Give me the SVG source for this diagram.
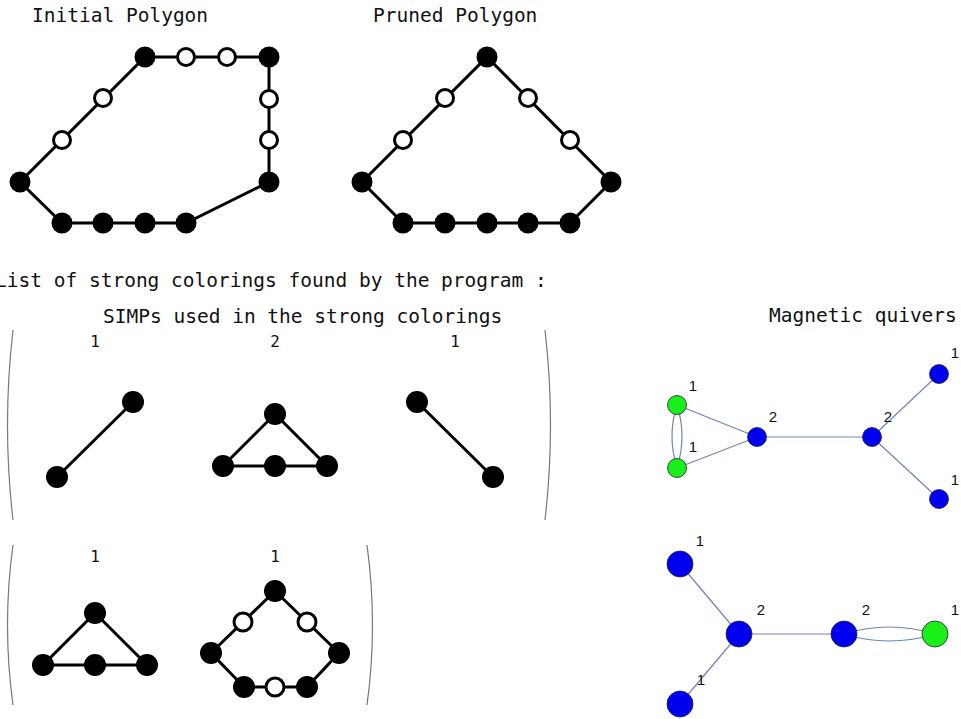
<svg xmlns="http://www.w3.org/2000/svg" width="961" height="719" viewBox="0 0 961 719">
<style>
.t{font-family:"DejaVu Sans Mono","Liberation Mono",monospace;font-size:19.5px;fill:#111}
.m{font-family:"DejaVu Sans Mono","Liberation Mono",monospace;font-size:16px;fill:#111;text-anchor:middle}
.q{font-family:"Liberation Sans",Arial,sans-serif;font-size:15px;fill:#111;text-anchor:middle}
.e{stroke:#000;stroke-width:3;fill:none}
.b{fill:#000}
.w{fill:#fff;stroke:#000;stroke-width:3}
.br{stroke:#777;stroke-width:1.2;fill:none}
.qe{stroke:#6f86b0;stroke-width:1.2;fill:none}
.qb{fill:#0000f0;stroke:#223;stroke-width:0.8}
.qg{fill:#19f019;stroke:#223;stroke-width:0.8}
</style>
<rect width="961" height="719" fill="#fff"/>
<text class="t" x="32" y="22">Initial Polygon</text>
<text class="t" x="373" y="22">Pruned Polygon</text>
<text class="t" x="-5" y="287">List of strong colorings found by the program :</text>
<text class="t" x="103" y="323">SIMPs used in the strong colorings</text>
<text class="t" x="769" y="322">Magnetic quivers</text>

<g id="initial-polygon">
<polygon class="e" points="145,57 269,57 269,182 186,223 62,223 20,182"/>
<circle class="b" cx="145" cy="57" r="10.5"/>
<circle class="w" cx="186" cy="57" r="8.5"/>
<circle class="w" cx="227" cy="57" r="8.5"/>
<circle class="b" cx="269" cy="57" r="10.5"/>
<circle class="w" cx="269" cy="99" r="8.5"/>
<circle class="w" cx="269" cy="140" r="8.5"/>
<circle class="b" cx="269" cy="182" r="10.5"/>
<circle class="b" cx="186" cy="223" r="10.5"/>
<circle class="b" cx="145" cy="223" r="10.5"/>
<circle class="b" cx="103" cy="223" r="10.5"/>
<circle class="b" cx="62" cy="223" r="10.5"/>
<circle class="b" cx="20" cy="182" r="10.5"/>
<circle class="w" cx="62" cy="140" r="8.5"/>
<circle class="w" cx="103" cy="98" r="8.5"/>
</g>

<g id="pruned-polygon">
<polygon class="e" points="487,57 611,182 570,223 403,223 362,182"/>
<circle class="b" cx="487" cy="57" r="10.5"/>
<circle class="w" cx="528" cy="98" r="8.5"/>
<circle class="w" cx="570" cy="140" r="8.5"/>
<circle class="b" cx="611" cy="182" r="10.5"/>
<circle class="b" cx="570" cy="223" r="10.5"/>
<circle class="b" cx="528" cy="223" r="10.5"/>
<circle class="b" cx="487" cy="223" r="10.5"/>
<circle class="b" cx="445" cy="223" r="10.5"/>
<circle class="b" cx="403" cy="223" r="10.5"/>
<circle class="b" cx="362" cy="182" r="10.5"/>
<circle class="w" cx="403" cy="140" r="8.5"/>
<circle class="w" cx="445" cy="98" r="8.5"/>
</g>

<g id="matrix-1">
<path class="br" d="M13,330 Q2,425 13,520"/>
<path class="br" d="M545,330 Q556,425 545,520"/>
<text class="m" x="95" y="347">1</text>
<text class="m" x="275" y="347">2</text>
<text class="m" x="455" y="347">1</text>
<g id="simp-1a">
<line class="e" x1="57" y1="477" x2="133" y2="402"/>
<circle class="b" cx="57" cy="477" r="11"/>
<circle class="b" cx="133" cy="402" r="11"/>
</g>
<g id="simp-2">
<polygon class="e" points="275,414 327,466 223,466"/>
<circle class="b" cx="275" cy="414" r="11"/>
<circle class="b" cx="223" cy="466" r="11"/>
<circle class="b" cx="275" cy="466" r="11"/>
<circle class="b" cx="327" cy="466" r="11"/>
</g>
<g id="simp-1b">
<line class="e" x1="417" y1="402" x2="493" y2="477"/>
<circle class="b" cx="417" cy="402" r="11"/>
<circle class="b" cx="493" cy="477" r="11"/>
</g>
</g>

<g id="matrix-2">
<path class="br" d="M13,545 Q2,625 13,705"/>
<path class="br" d="M367,545 Q378,625 367,705"/>
<text class="m" x="95" y="562">1</text>
<text class="m" x="275" y="562">1</text>
<g id="simp-tri">
<polygon class="e" points="95,613 147,665 43,665"/>
<circle class="b" cx="95" cy="613" r="11"/>
<circle class="b" cx="43" cy="665" r="11"/>
<circle class="b" cx="95" cy="665" r="11"/>
<circle class="b" cx="147" cy="665" r="11"/>
</g>
<g id="simp-hex">
<polygon class="e" points="275,591 339,653 307,687 244,687 211,653"/>
<circle class="b" cx="275" cy="591" r="11"/>
<circle class="w" cx="243" cy="622" r="9"/>
<circle class="w" cx="307" cy="622" r="9"/>
<circle class="b" cx="211" cy="653" r="11"/>
<circle class="b" cx="339" cy="653" r="11"/>
<circle class="b" cx="244" cy="687" r="11"/>
<circle class="w" cx="275" cy="687" r="9"/>
<circle class="b" cx="307" cy="687" r="11"/>
</g>
</g>

<g id="quiver-1-edges">
<path class="qe" d="M677,405 Q667,436 677,468"/>
<path class="qe" d="M677,405 Q687,436 677,468"/>
<line class="qe" x1="677" y1="405" x2="757" y2="437"/>
<line class="qe" x1="677" y1="468" x2="757" y2="437"/>
<line class="qe" x1="757" y1="437" x2="872" y2="437"/>
<line class="qe" x1="872" y1="437" x2="939" y2="374"/>
<line class="qe" x1="872" y1="437" x2="939" y2="499"/>
</g>
<g id="quiver-1-nodes">
<g id="q1-g1"><circle class="qg" cx="677" cy="405" r="9.5"/><text class="q" x="693" y="391">1</text></g>
<g id="q1-g2"><circle class="qg" cx="677" cy="468" r="9.5"/><text class="q" x="693" y="452">1</text></g>
<g id="q1-b1"><circle class="qb" cx="757" cy="437" r="9.5"/><text class="q" x="773" y="422">2</text></g>
<g id="q1-b2"><circle class="qb" cx="872" cy="437" r="9.5"/><text class="q" x="888" y="422">2</text></g>
<g id="q1-b3"><circle class="qb" cx="939" cy="374" r="9.5"/><text class="q" x="955" y="358">1</text></g>
<g id="q1-b4"><circle class="qb" cx="939" cy="499" r="9.5"/><text class="q" x="955" y="485">1</text></g>
</g>

<g id="quiver-2-edges">
<line class="qe" x1="680" y1="564" x2="739" y2="634"/>
<line class="qe" x1="680" y1="704" x2="739" y2="634"/>
<line class="qe" x1="739" y1="634" x2="844" y2="634"/>
<path class="qe" d="M844,634 Q889,620 935,634"/>
<path class="qe" d="M844,634 Q889,648 935,634"/>
</g>
<g id="quiver-2-nodes">
<g id="q2-b1"><circle class="qb" cx="680" cy="564" r="13"/><text class="q" x="700" y="546">1</text></g>
<g id="q2-b2"><circle class="qb" cx="739" cy="634" r="13"/><text class="q" x="761" y="615">2</text></g>
<g id="q2-b3"><circle class="qb" cx="844" cy="634" r="13"/><text class="q" x="866" y="615">2</text></g>
<g id="q2-g1"><circle class="qg" cx="935" cy="634" r="13"/><text class="q" x="955" y="615">1</text></g>
<g id="q2-b4"><circle class="qb" cx="680" cy="704" r="13"/><text class="q" x="701" y="685">1</text></g>
</g>
</svg>
